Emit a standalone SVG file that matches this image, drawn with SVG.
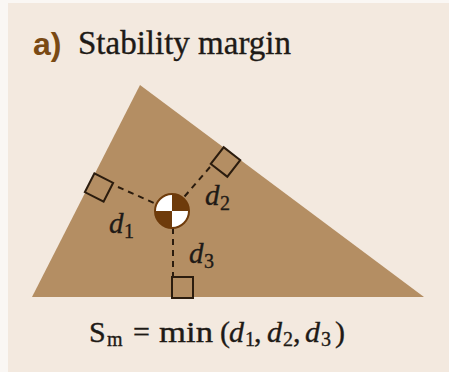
<svg xmlns="http://www.w3.org/2000/svg" width="449" height="372" viewBox="0 0 449 372">
<style>
.sq{fill:none;stroke:#2b1c0e;stroke-width:2}
.dash{stroke:#2b1c0e;stroke-width:2;stroke-dasharray:6 5;fill:none}
.serif{font-family:"Liberation Serif","Times New Roman",serif;fill:#1e1a16;stroke:#1e1a16;stroke-width:0.35}
</style>
<rect x="0" y="0" width="449" height="372" fill="#faf7f4"/>
<rect x="8" y="3" width="441" height="369" fill="#f3e9df"/>
<text x="33" y="55" font-family="Liberation Sans, Arial, sans-serif" font-weight="bold" font-size="32" fill="#7a4a14">a)</text>
<text class="serif" x="78" y="54" font-size="33" textLength="213" lengthAdjust="spacingAndGlyphs">Stability margin</text>
<g id="support-polygon">
<polygon points="140,85 32,297 424,297" fill="#b48e63"/>
</g>
<g id="connectors">
<line class="dash" x1="118" y1="187" x2="172" y2="211"/>
<line class="dash" x1="210" y1="167" x2="172" y2="211"/>
<line class="dash" x1="173" y1="228" x2="173" y2="277"/>
</g>
<g id="foot1">
<rect class="sq" x="-10.5" y="-10.5" width="21" height="21" transform="translate(99,187.5) rotate(27)"/>
</g>
<g id="foot2">
<rect class="sq" x="-10.5" y="-10.5" width="21" height="21" transform="translate(225.5,162) rotate(38)"/>
</g>
<g id="foot3">
<rect class="sq" x="172" y="277" width="21" height="21"/>
</g>
<g id="com">
<circle cx="172" cy="211" r="17" fill="#ffffff" stroke="#6e3b0b" stroke-width="2"/>
<path d="M172,211 L172,194 A17,17 0 0 1 189,211 Z" fill="#6e3b0b"/>
<path d="M172,211 L172,228 A17,17 0 0 1 155,211 Z" fill="#6e3b0b"/>
</g>
<g id="labels">
<text class="serif" x="109" y="233" font-size="29" font-style="italic">d<tspan x="124" y="238" font-size="20" font-style="normal">1</tspan></text>
<text class="serif" x="205" y="205" font-size="29" font-style="italic">d<tspan x="220" y="210" font-size="20" font-style="normal">2</tspan></text>
<text class="serif" x="189" y="263" font-size="29" font-style="italic">d<tspan x="204" y="268" font-size="20" font-style="normal">3</tspan></text>
</g>
<g id="formula">
<text class="serif" y="342" font-size="30"><tspan x="89">S</tspan><tspan x="107" y="346" font-size="20">m</tspan><tspan x="133" y="342">=</tspan><tspan x="159" textLength="54" lengthAdjust="spacingAndGlyphs">min</tspan><tspan x="220">(</tspan><tspan x="229" font-style="italic">d</tspan><tspan x="245" y="346" font-size="20">1</tspan><tspan x="254" y="342">,</tspan><tspan x="267" font-style="italic">d</tspan><tspan x="283" y="346" font-size="20">2</tspan><tspan x="293" y="342">,</tspan><tspan x="305" font-style="italic">d</tspan><tspan x="321" y="346" font-size="20">3</tspan><tspan x="335" y="342">)</tspan></text>
</g>
</svg>
